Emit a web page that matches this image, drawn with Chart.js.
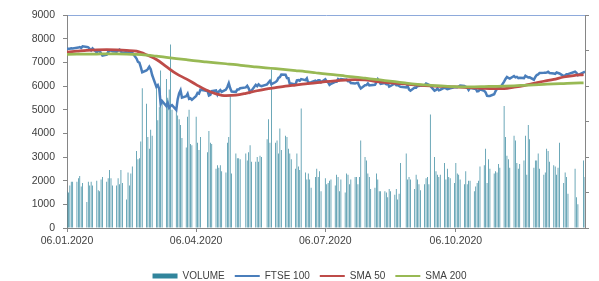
<!DOCTYPE html>
<html>
<head>
<meta charset="utf-8">
<title>FTSE 100 – Volume, SMA 50, SMA 200</title>
<script src="https://cdn.jsdelivr.net/npm/chart.js@4.4.1/dist/chart.umd.min.js"></script>
<style>
  html, body { margin: 0; padding: 0; background: #fff; }
  canvas { display: block; }
</style>
</head>
<body>
<canvas id="grafico" width="599" height="281"></canvas>
<script>
"use strict";

/* ── DADOS ──────────────────────────────── */
// semanas de pregão a partir de 06.01.2020 (seg..sex), null = feriado
const volumeSemanal = [
  [1550, 1500, 1800, 1950, 1950], [1950, 2100, 2200, 1750, 1900], [1100, 1950, 1800, 1950, 1800],
  [2000, 1600, 1550, 2050, 2150], [1950, 2100, 2450, 2100, 1800], [1800, 2100, 1850, 2450, 1900],
  [1200, 2350, 1800, 2300, 2600], [3250, 2900, 2950, 3650, 5900], [5250, 3850, 3350, 4150, 3900],
  [5900, 4550, 5100, 6650, 5300], [6300, 5500, 5850, 7750, 5000], [4950, 4750, 4600, 4350, 3800],
  [3400, 4700, 5000, 3550, 3500], [4700, 3600, 3300, 3850, null], [null, 3200, 4100, 3600, 3550],
  [2500, 2650, 2550, 2650, 2400], [2350, 3600, 3850, 5650, 2300], [3150, 2950, 2950, 2900, null],
  [3150, 2850, 3200, 3500, 2800], [2800, 3000, 2800, 3050, 3000], [null, 3750, 4600, 3600, 6700],
  [3600, 3700, 3150, 4200, 3300], [3900, 3850, 3350, 3150, 2900], [2500, 3150, 2600, 2450, 5050],
  [2350, 2050, 2300, 2050, 1700], [2150, 2500, 2150, 2400, 1550], [2100, 1850, 1900, 2000, 2050],
  [1800, 2250, 2150, 1550, 2050], [1500, 2300, 2250, 1850, 2050], [2150, 2150, 1850, 2150, 3700],
  [3000, 2850, 2300, 2150, 1650], [1700, 2300, 2050, 1550, 1550], [1550, 1500, 1300, 1650, 1550],
  [1400, 1650, 1200, 1450, 2750], [null, 3150, 2050, 2150, 2050], [1650, 2250, 2050, 1850, 1600],
  [1850, 2100, 2150, 1850, 4800], [3000, 2400, 2250, 2150, 2250], [2750, 2050, 2500, 2150, 2100],
  [1900, 2750, 2300, 2250, 2050], [1850, 2400, 1850, 2000, 2000], [1550, 1750, 1900, 2000, 2600],
  [2650, 3350, 1900, 2900, 2500], [2300, 2400, 2350, 2700, 2550], [5150, 3850, 3050, 2900, 2550],
  [3900, 3700, 2750, 2500, 2700], [2850, 3900, 2250, 4350, 3750], [2550, 2850, 2850, 3150, 2500],
  [2250, 2350, 3350, 3250, 2800], [2650, 2600, 2250, 2550, 3600], [1900, 2350, 2150, 1450, null],
  [null, 2500, 1300, 1000, null], [2850, 2150]
];

const ftseSemanal = [
  [7575, 7573, 7575, 7598, 7588], [7617, 7622, 7642, 7610, 7675], [7651, 7629, 7571, 7507, 7586],
  [7413, 7481, 7484, 7381, 7286], [7326, 7440, 7483, 7504, 7466], [7446, 7499, 7534, 7452, 7409],
  [7433, 7382, 7457, 7437, 7404], [7157, 7018, 6988, 6797, 6581], [6654, 6718, 6816, 6705, 6463],
  [5966, 6036, 5877, 5237, 5366], [5151, 5294, 5080, 5152, 5191], [4994, 5446, 5688, 5816, 5510],
  [5564, 5672, 5455, 5480, 5416], [5582, 5704, 5677, 5843, null], [null, 5791, 5598, 5629, 5787],
  [5812, 5641, 5770, 5826, 5752], [5846, 5958, 6115, 5901, 5763], [5753, 5849, 5853, 5904, null],
  [5940, 6005, 5904, 5741, 5800], [6049, 5993, 6067, 6015, 5994], [null, 6068, 6144, 6219, 6077],
  [6166, 6220, 6341, 6380, 6484], [6473, 6335, 6329, 6076, 6105], [6064, 6243, 6253, 6224, 6292],
  [6245, 6320, 6124, 6147, 6159], [6225, 6170, 6240, 6241, 6157], [6286, 6189, 6156, 6050, 6095],
  [6176, 6179, 6293, 6250, 6290], [6261, 6269, 6207, 6211, 6124], [6104, 6129, 6131, 5990, 5898],
  [6032, 6036, 6104, 6026, 6032], [6050, 6154, 6280, 6186, 6090], [6127, 6077, 6111, 5973, 6001],
  [6104, 6037, 6045, 6000, 5964], [null, 5940, 6009, 5851, 5799], [5937, 5930, 6013, 6004, 6032],
  [6026, 6105, 6078, 6050, 6007], [5804, 5829, 5899, 5823, 5842], [5927, 5899, 5866, 5880, 5902],
  [5942, 5949, 5946, 5978, 6017], [6001, 5969, 5935, 5832, 5920], [5884, 5889, 5777, 5786, 5860],
  [5792, 5729, 5583, 5582, 5577], [5654, 5786, 5883, 5906, 5910], [6186, 6297, 6383, 6339, 6316],
  [6421, 6365, 6385, 6334, 6351], [6334, 6433, 6391, 6363, 6368], [6266, 6385, 6463, 6490, 6550],
  [6555, 6558, 6564, 6599, 6547], [6531, 6514, 6570, 6551, 6529], [6416, 6453, 6496, 6502, null],
  [null, 6602, 6555, 6461, null], [6571, 6612]
];

// médias lidas a cada segunda-feira
const sma50 = [
  7430, 7470, 7510, 7530, 7535, 7525, 7505, 7470, 7320, 7120, 6820, 6520, 6300, 6060,
  5830, 5670, 5590, 5610, 5690, 5790, 5870, 5930, 5990, 6040, 6090, 6130, 6180, 6220,
  6250, 6265, 6260, 6200, 6155, 6120, 6085, 6050, 6020, 5995, 5980, 5960, 5940, 5920,
  5895, 5885, 5890, 5950, 6020, 6110, 6200, 6280, 6380, 6440, 6480
];

const sma200 = [
  7340, 7345, 7350, 7352, 7355, 7355, 7350, 7335, 7305, 7260, 7210, 7160, 7110, 7060,
  7020, 6980, 6940, 6900, 6850, 6810, 6770, 6730, 6690, 6650, 6610, 6560, 6510, 6470,
  6420, 6380, 6330, 6280, 6230, 6180, 6130, 6080, 6050, 6020, 5995, 5970, 5960, 5965,
  5975, 5985, 5995, 6010, 6030, 6050, 6070, 6090, 6105, 6120, 6130
];

const diasRotulos = [0, 91, 182, 274];
const rotulosX    = ["06.01.2020", "06.04.2020", "06.07.2020", "06.10.2020"];
const ULTIMO_DIA  = 365;

/* ── PONTOS ─────────────────────────────── */
function pontosDiarios(semanas) {
  const pts = [];
  semanas.forEach((sem, k) => sem.forEach((v, d) => {
    if (v !== null) pts.push({ x: k * 7 + d, y: v });
  }));
  return pts;
}

function pontosSemanais(lista) {
  return lista.map((v, k) => ({ x: k * 7, y: v }));
}

/* ── GRÁFICO ────────────────────────────── */
const FONTE  = { family: "'Liberation Sans', Arial, sans-serif", size: 10.5 };
const TEXTO  = "#404040";
const EIXO   = "#868686";

new Chart(document.getElementById("grafico"), {
  type: "bar",
  data: {
    datasets: [
      {
        type: "bar", label: "VOLUME", data: pontosDiarios(volumeSemanal),
        backgroundColor: "#31859C", barPercentage: 0.5, categoryPercentage: 1, order: 4
      },
      {
        type: "line", label: "FTSE 100", data: pontosDiarios(ftseSemanal),
        borderColor: "#4A7EBB", borderWidth: 2.5, pointRadius: 0, tension: 0, order: 3
      },
      {
        type: "line", label: "SMA 50", data: pontosSemanais(sma50),
        borderColor: "#BE4B48", borderWidth: 2.75, pointRadius: 0,
        cubicInterpolationMode: "monotone", order: 2
      },
      {
        type: "line", label: "SMA 200", data: pontosSemanais(sma200),
        borderColor: "#98B954", borderWidth: 2.75, pointRadius: 0,
        cubicInterpolationMode: "monotone", order: 1
      }
    ]
  },
  options: {
    responsive: false,
    animation: false,
    layout: { padding: { top: 15, right: 0, bottom: -10, left: 20 } },
    plugins: {
      tooltip: { enabled: false },
      legend: {
        position: "bottom",
        labels: {
          color: TEXTO,
          font: { family: FONTE.family, size: 10 },
          usePointStyle: true,
          pointStyleWidth: 25,
          boxHeight: 5,
          padding: 10,
          sort: (a, b) => a.datasetIndex - b.datasetIndex,
          generateLabels(chart) {
            const itens = Chart.defaults.plugins.legend.labels.generateLabels(chart);
            itens.forEach(it => {
              const ds = chart.data.datasets[it.datasetIndex];
              if (ds.type === "line") {
                it.pointStyle = "line"; it.lineWidth = 2; it.strokeStyle = ds.borderColor;
              } else {
                it.pointStyle = "rect"; it.lineWidth = 0; it.fillStyle = ds.backgroundColor;
              }
            });
            return itens;
          }
        }
      }
    },
    scales: {
      x: {
        type: "linear", min: 0, max: ULTIMO_DIA, offset: false,
        afterBuildTicks: s => { s.ticks = diasRotulos.map(v => ({ value: v })); },
        afterFit: s => { s.height = 33; },
        ticks: {
          autoSkip: false, maxRotation: 0, padding: 3, color: TEXTO, font: FONTE,
          callback: v => rotulosX[diasRotulos.indexOf(v)] ?? ""
        },
        grid: { offset: false, drawOnChartArea: false, tickLength: 4, color: EIXO },
        border: { color: EIXO }
      },
      y: {
        min: 0, max: 9000,
        afterFit: s => { s.width = 47; },
        ticks: { stepSize: 1000, padding: 8, color: TEXTO, font: FONTE, callback: v => String(v) },
        grid: {
          color: c => (c.tick && c.tick.value === 9000) ? "#8EAADB" : "rgba(0,0,0,0)",
          tickColor: EIXO, tickLength: 4
        },
        border: { color: EIXO }
      },
      y2: {
        position: "right", min: 0, max: 9000,
        afterFit: s => { s.width = 14; },
        ticks: { stepSize: 1500, callback: () => "" },
        grid: { drawOnChartArea: false, tickLength: 4, color: EIXO },
        border: { color: EIXO }
      }
    }
  }
});
</script>
</body>
</html>
